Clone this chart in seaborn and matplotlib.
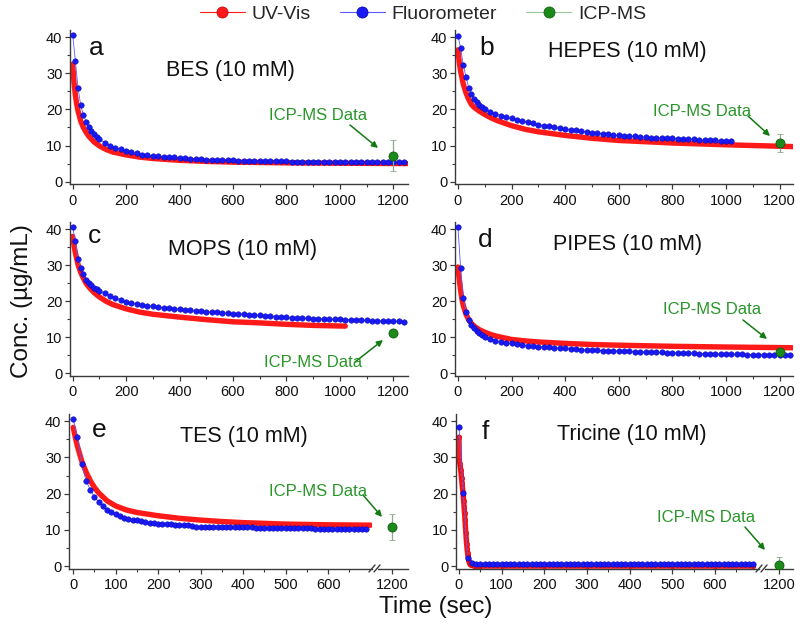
import numpy as np
import pandas as pd
import matplotlib
matplotlib.use("Agg")
import matplotlib.pyplot as plt
from matplotlib.lines import Line2D
from matplotlib.patches import FancyArrowPatch
from matplotlib.ticker import MultipleLocator, FixedLocator, NullLocator
import seaborn as sns

sns.set_theme(style="ticks")
plt.rcParams["font.family"] = ["Liberation Sans", "DejaVu Sans"]

# ---------------- data ----------------
T_LONG = [0, 10, 20, 30, 40, 50, 60, 70, 80, 90, 100, 120, 140, 160, 180, 200, 220, 240,
          260, 280, 300, 320, 340, 360, 380, 400, 420, 440, 460, 480, 500, 520, 540, 560,
          580, 600, 620, 640, 660, 680, 700, 720, 740, 760, 780, 800, 820, 840, 860, 880,
          900, 920, 940, 960, 980, 1000, 1020, 1040, 1060, 1080, 1100, 1120, 1140, 1160,
          1180, 1200, 1220, 1240]
T_SHORT = [0, 10, 20, 30, 40, 50, 60, 70, 80, 90, 100, 110, 120, 130, 140, 150, 160, 170,
           180, 190, 200, 210, 220, 230, 240, 250, 260, 270, 280, 290, 300, 310, 320, 330,
           340, 350, 360, 370, 380, 390, 400, 410, 420, 430, 440, 450, 460, 470, 480, 490,
           500, 510, 520, 530, 540, 550, 560, 570, 580, 590, 600, 610, 620, 630, 640, 650,
           660, 670, 680, 690]

# Fluorometer (blue)
fluor_a = [40.6, 33.5, 25.9, 21.2, 18.5, 16.6, 15.2, 14.0, 13.2, 12.4, 11.8,
           10.8, 10.0, 9.4, 8.9, 8.4, 8.1, 7.8, 7.5, 7.3, 7.1,
           7.0, 6.9, 6.8, 6.7, 6.6, 6.5, 6.4, 6.3, 6.2, 6.1,
           6.1, 6.0, 6.0, 5.9, 5.9, 5.8, 5.8, 5.8, 5.7, 5.7,
           5.7, 5.6, 5.6, 5.6, 5.6, 5.5, 5.5, 5.5, 5.5, 5.5,
           5.5, 5.4, 5.4, 5.4, 5.4, 5.4, 5.4, 5.4, 5.3, 5.3,
           5.3, 5.3, 5.3, 5.3, 5.3, 5.3, 5.3]
fluor_b = [40.4, 37.0, 32.2, 29.1, 26.0, 24.2, 23.0, 22.0, 21.3, 20.7, 20.2,
           19.4, 18.8, 18.3, 17.9, 17.5, 17.1, 16.8, 16.4, 16.1, 15.8,
           15.5, 15.3, 15.0, 14.8, 14.6, 14.4, 14.2, 14.0, 13.8, 13.6,
           13.4, 13.3, 13.1, 12.9, 12.8, 12.7, 12.6, 12.5, 12.4, 12.3,
           12.2, 12.2, 12.1, 12.0, 12.0, 11.9, 11.9, 11.8, 11.8, 11.6,
           11.5, 11.4, 11.4, 11.3, 11.2, 11.2]
fluor_c = [40.6, 36.6, 31.8, 29.1, 27.5, 26.0, 25.0, 24.4, 23.8, 23.3, 22.9,
           22.2, 21.5, 20.9, 20.4, 19.9, 19.6, 19.3, 19.0, 18.8, 18.6,
           18.4, 18.2, 18.0, 17.9, 17.8, 17.6, 17.5, 17.3, 17.2, 17.1,
           17.0, 16.9, 16.8, 16.7, 16.6, 16.5, 16.4, 16.3, 16.2, 16.1,
           16.0, 15.9, 15.7, 15.6, 15.5, 15.4, 15.4, 15.3, 15.3, 15.2,
           15.2, 15.1, 15.1, 15.0, 15.0, 14.9, 14.9, 14.8, 14.8, 14.7,
           14.6, 14.6, 14.5, 14.5, 14.5, 14.4, 14.3]
fluor_d = [40.6, 29.1, 20.8, 17.1, 14.8, 13.4, 12.5, 11.7, 11.1, 10.6, 10.2,
           9.6, 9.1, 8.8, 8.5, 8.3, 8.1, 7.9, 7.7, 7.5, 7.4,
           7.3, 7.2, 7.1, 7.0, 6.9, 6.8, 6.7, 6.6, 6.5, 6.5,
           6.4, 6.3, 6.3, 6.2, 6.2, 6.1, 6.1, 6.0, 6.0, 5.9,
           5.9, 5.8, 5.8, 5.7, 5.7, 5.7, 5.6, 5.6, 5.6, 5.5,
           5.5, 5.5, 5.4, 5.4, 5.4, 5.3, 5.3, 5.3, 5.2, 5.2,
           5.2, 5.2, 5.1, 5.1, 5.1, 5.1, 5.0]
fluor_e = [40.5, 35.6, 28.2, 23.6, 21.1, 19.0, 17.7, 16.5, 15.5, 14.9,
           14.3, 13.8, 13.4, 13.1, 12.8, 12.6, 12.4, 12.2, 12.0, 11.8,
           11.7, 11.6, 11.5, 11.5, 11.4, 11.3, 11.3, 11.4, 11.0, 10.9,
           10.9, 10.9, 10.8, 10.8, 10.8, 10.8, 10.8, 10.8, 10.8, 10.7,
           10.7, 10.7, 10.7, 10.6, 10.6, 10.6, 10.6, 10.6, 10.5, 10.5,
           10.5, 10.5, 10.4, 10.4, 10.4, 10.4, 10.4, 10.3, 10.3, 10.3,
           10.3, 10.3, 10.3, 10.2, 10.2, 10.2, 10.2, 10.2, 10.2, 10.2]
fluor_f = [38.5, 20.2, 2.3, 0.9, 0.7, 0.6, 0.6, 0.5, 0.5, 0.5,
           0.5, 0.5, 0.5, 0.5, 0.5, 0.5, 0.5, 0.5, 0.5, 0.5,
           0.5, 0.5, 0.5, 0.5, 0.5, 0.5, 0.5, 0.5, 0.5, 0.5,
           0.5, 0.5, 0.5, 0.5, 0.5, 0.5, 0.5, 0.5, 0.5, 0.5,
           0.5, 0.5, 0.5, 0.5, 0.5, 0.5, 0.5, 0.5, 0.5, 0.5,
           0.5, 0.5, 0.6, 0.5, 0.5, 0.5, 0.5, 0.5, 0.5, 0.5,
           0.5, 0.5, 0.5, 0.5, 0.5, 0.5, 0.5, 0.5, 0.5, 0.5]

# UV-Vis (red)
uv_t_a = [0, 5, 10, 15, 20, 30, 40, 50, 60, 80, 100, 125, 150, 200, 250, 300, 400, 500, 600, 800, 1000, 1250]
uv_a = [32.5, 27.5, 24.0, 21.5, 19.6, 16.8, 15.0, 13.7, 12.6, 11.0, 9.9, 8.9, 8.2, 7.4, 6.8, 6.4, 5.9, 5.6, 5.4, 5.2, 5.1, 5.0]
uv_t_b = [0, 5, 10, 20, 30, 40, 50, 60, 80, 100, 125, 150, 200, 250, 300, 400, 500, 600, 800, 1000, 1250]
uv_b = [36.5, 33.0, 30.5, 27.0, 24.6, 22.8, 21.4, 20.6, 19.5, 18.6, 17.6, 16.8, 15.5, 14.5, 13.8, 12.8, 12.0, 11.4, 10.7, 10.2, 9.7]
uv_t_c = [0, 5, 10, 20, 30, 40, 50, 60, 80, 100, 125, 150, 200, 250, 300, 400, 500, 600, 700, 800, 900, 1020]
uv_c = [38.0, 35.5, 33.5, 30.2, 28.0, 26.4, 25.0, 24.0, 22.4, 21.2, 20.0, 19.1, 17.9, 17.0, 16.4, 15.6, 14.9, 14.3, 14.0, 13.6, 13.3, 13.1]
uv_t_d = [0, 5, 10, 15, 20, 30, 40, 50, 60, 80, 100, 125, 150, 200, 250, 300, 400, 500, 600, 800, 1000, 1250]
uv_d = [29.5, 26.0, 23.0, 20.5, 18.8, 16.4, 14.9, 13.9, 13.1, 12.1, 11.4, 10.7, 10.2, 9.4, 9.0, 8.7, 8.3, 8.0, 7.8, 7.5, 7.3, 7.1]
uv_t_e = [0, 5, 10, 20, 30, 40, 50, 60, 80, 100, 125, 150, 200, 250, 300, 350, 400, 500, 600, 700]
uv_e = [38.3, 35.5, 33.0, 29.0, 26.0, 23.6, 21.7, 20.2, 18.0, 16.6, 15.5, 14.8, 13.9, 13.2, 12.7, 12.3, 12.0, 11.6, 11.4, 11.3]
uv_t_f = [0, 1, 2, 3, 4, 5, 6, 7, 8, 9, 10, 11, 12, 13, 14, 15, 16, 17, 18, 19, 20, 21, 22, 23,
          24, 25, 26, 28, 30, 35, 40, 50, 100, 200, 300, 400, 500, 600, 690]
uv_f = [35.6, 29.0, 28.3, 27.4, 26.4, 25.3, 24.2, 23.0, 21.8, 20.6, 19.3, 17.9, 16.3, 14.6,
        12.8, 11.0, 9.2, 7.5, 6.0, 4.7, 3.6, 2.7, 2.0, 1.4, 1.0, 0.7, 0.5, 0.3, 0.2, 0.1,
        0.0, 0.0, 0.0, 0.0, 0.0, 0.0, 0.0, 0.0, 0.0]

# ICP-MS (green) at t = 1200 s
icp_t = 1200
icp_val = [7.2, 10.8, 11.2, 5.9, 10.9, 0.3]
icp_err = [4.3, 2.5, 0.3, 0.3, 3.6, 2.3]

titles = ["BES (10 mM)", "HEPES (10 mM)", "MOPS (10 mM)", "PIPES (10 mM)", "TES (10 mM)", "Tricine (10 mM)"]
letters = ["a", "b", "c", "d", "e", "f"]

# ---------------- styling ----------------
RED = "#ff1a1a"
BLUE = "#1a1af5"
BLUE_LINE = "#5a5aff"
GREEN = "#1b8a1b"
GREEN_TXT = "#2a962a"
SPINE = "#3a3a3a"

W, H = 800, 624
fig = plt.figure(figsize=(8, 6.24), dpi=100)


def rect(L, R, T, B):
    return [L / W, 1 - B / H, (R - L) / W, (B - T) / H]


def fx(px):
    return px / W


def fy(py):
    return 1 - py / H


def style(ax, left=True):
    sns.despine(ax=ax, left=not left)
    for s in ["left", "bottom"]:
        ax.spines[s].set_color(SPINE)
        ax.spines[s].set_linewidth(1.0)
    ax.set_ylim(-0.8, 42)
    ax.tick_params(which="major", length=3.5, width=0.9, color=SPINE, labelsize=10.5,
                   labelcolor="#111111")
    ax.tick_params(which="minor", length=2.0, width=0.8, color=SPINE)
    ax.tick_params(axis="y", pad=2)
    ax.tick_params(axis="x", pad=3)
    if left:
        ax.yaxis.set_major_locator(MultipleLocator(10))
        ax.yaxis.set_minor_locator(MultipleLocator(5))
    else:
        ax.set_yticks([])
        ax.yaxis.set_minor_locator(NullLocator())
    ax.set_xlabel("")
    ax.set_ylabel("")
    ax.set_facecolor("white")


def draw_uv(ax, t, v, with_markers=False):
    kw = dict(marker="o", markersize=3.4, markerfacecolor=RED, markeredgecolor="#d00000",
              markeredgewidth=0.3) if with_markers else {}
    sns.lineplot(x=t, y=v, ax=ax, color=RED, linewidth=3.9, legend=False, sort=False,
                 estimator=None, solid_capstyle="round", zorder=2, **kw)


def draw_fl(ax, t, v):
    sns.lineplot(x=t, y=v, ax=ax, color=BLUE_LINE, linewidth=0.6, marker="o", markersize=4.0,
                 markerfacecolor=BLUE, markeredgecolor="#0000a8", markeredgewidth=0.3,
                 legend=False, sort=False, estimator=None, zorder=3)


def draw_icp(ax, i):
    ax.errorbar([icp_t], [icp_val[i]], yerr=[icp_err[i]], fmt="o", color=GREEN, ms=6.5,
                mec="#0a5a0a", mew=0.6, ecolor="#8fa88f", elinewidth=0.9, capsize=2.5,
                capthick=0.9, zorder=4)


def green_note(ctr, p0, p1):
    fig.text(fx(ctr[0]), fy(ctr[1]), "ICP-MS Data", color=GREEN_TXT, fontsize=12,
             ha="center", va="center")
    arr = FancyArrowPatch(posA=(fx(p0[0]), fy(p0[1])), posB=(fx(p1[0]), fy(p1[1])),
                          transform=fig.transFigure, arrowstyle="-|>", mutation_scale=9,
                          color="#137a13", lw=1.1, shrinkA=0, shrinkB=0)
    fig.add_artist(arr)


def break_marks(x0, y0):
    for dx in (0, 5):
        fig.add_artist(Line2D([fx(x0 + dx), fx(x0 + dx + 6)], [fy(y0 + 3), fy(y0 - 4)],
                              color=SPINE, lw=1.0))


rows = [(30, 184.5), (222, 376.2), (414, 569)]

# ---------- panels a-d ----------
long_specs = [
    (0, 70, 408, rows[0], T_LONG, fluor_a, uv_t_a, uv_a),
    (1, 455, 793, rows[0], T_LONG, fluor_b, uv_t_b, uv_b),
    (2, 70, 408, rows[1], T_LONG, fluor_c, uv_t_c, uv_c),
    (3, 455, 793, rows[1], T_LONG, fluor_d, uv_t_d, uv_d),
]
xlims_long = [(-10, 1255), (-11, 1250), (-10, 1255), (-11, 1250)]
for (i, L, R, (T, B), tfl, vfl, tuv, vuv), xl in zip(long_specs, xlims_long):
    ax = fig.add_axes(rect(L, R, T, B))
    draw_uv(ax, tuv, vuv)
    draw_fl(ax, tfl[:len(vfl)], vfl)
    draw_icp(ax, i)
    style(ax)
    ax.set_xlim(*xl)
    ax.xaxis.set_major_locator(FixedLocator([0, 200, 400, 600, 800, 1000, 1200]))
    ax.xaxis.set_minor_locator(FixedLocator([100, 300, 500, 700, 900, 1100]))

# ---------- panels e, f (broken x axis) ----------
short_specs = [
    (4, 69, 372, 378, 408, fluor_e, uv_t_e, uv_e, (-10, 703), (1167, 1237.6), 369),
    (5, 456, 759, 765, 793, fluor_f, uv_t_f, uv_f, (-7, 703), (1167, 1233), 756),
]
T3, B3 = rows[2]
for (i, L1, R1, L2, R2, vfl, tuv, vuv, xl1, xl2, bx) in short_specs:
    ax1 = fig.add_axes(rect(L1, R1, T3, B3))
    draw_uv(ax1, tuv, vuv, with_markers=(i == 5))
    draw_fl(ax1, T_SHORT[:len(vfl)], vfl)
    style(ax1)
    ax1.set_xlim(*xl1)
    ax1.xaxis.set_major_locator(FixedLocator([0, 100, 200, 300, 400, 500, 600]))
    ax1.xaxis.set_minor_locator(FixedLocator([50, 150, 250, 350, 450, 550, 650]))

    ax2 = fig.add_axes(rect(L2, R2, T3, B3))
    draw_icp(ax2, i)
    style(ax2, left=False)
    ax2.set_xlim(*xl2)
    ax2.xaxis.set_major_locator(FixedLocator([1200]))
    ax2.xaxis.set_minor_locator(NullLocator())
    ax2.patch.set_alpha(0)
    break_marks(bx, B3)

# ---------- panel letters & titles ----------
letter_pos = [(89, 55), (479, 55), (88, 243), (478, 247), (92, 437), (482, 439)]
title_pos = [(166, 76), (548, 57), (168, 255), (553, 250), (180, 442), (557, 440)]
for k in range(6):
    fig.text(fx(letter_pos[k][0]), fy(letter_pos[k][1]), letters[k], fontsize=19,
             ha="left", va="baseline", color="#111111")
    fig.text(fx(title_pos[k][0]), fy(title_pos[k][1]), titles[k], fontsize=15.5,
             ha="left", va="baseline", color="#111111")

# ---------- ICP-MS annotations ----------
green_note((318, 116), (350, 125), (378, 148))
green_note((702, 112), (748, 116), (770, 136))
green_note((313, 362), (355, 362), (383, 340))
green_note((712, 310), (743, 320), (767, 339))
green_note((318, 492), (363, 495), (382, 517))
green_note((706, 517), (745, 527), (765, 550))

# ---------- axis labels ----------
fig.text(fx(22), fy(301), "Conc. (\u00b5g/mL)", rotation=90, fontsize=17.5, ha="center",
         va="center", color="#111111")
fig.text(fx(436), fy(607), "Time (sec)", fontsize=17.5, ha="center", va="center",
         color="#111111")

# ---------- legend ----------
handles = [
    Line2D([], [], color=RED, lw=0.8, marker="o", ms=8, mfc=RED, mec="#c00000", mew=0.5),
    Line2D([], [], color=BLUE_LINE, lw=0.8, marker="o", ms=8, mfc=BLUE, mec="#0000a8", mew=0.5),
    Line2D([], [], color="#9ac89a", lw=0.8, marker="o", ms=8, mfc=GREEN, mec="#0a5a0a", mew=0.5),
]
fig.legend(handles, ["UV-Vis", "Fluorometer", "ICP-MS"], loc="center",
           bbox_to_anchor=(fx(423), fy(14)), ncol=3, frameon=False, fontsize=14,
           handlelength=2.3, handletextpad=0.35, columnspacing=1.5)

fig.savefig("out.png", dpi=100)
